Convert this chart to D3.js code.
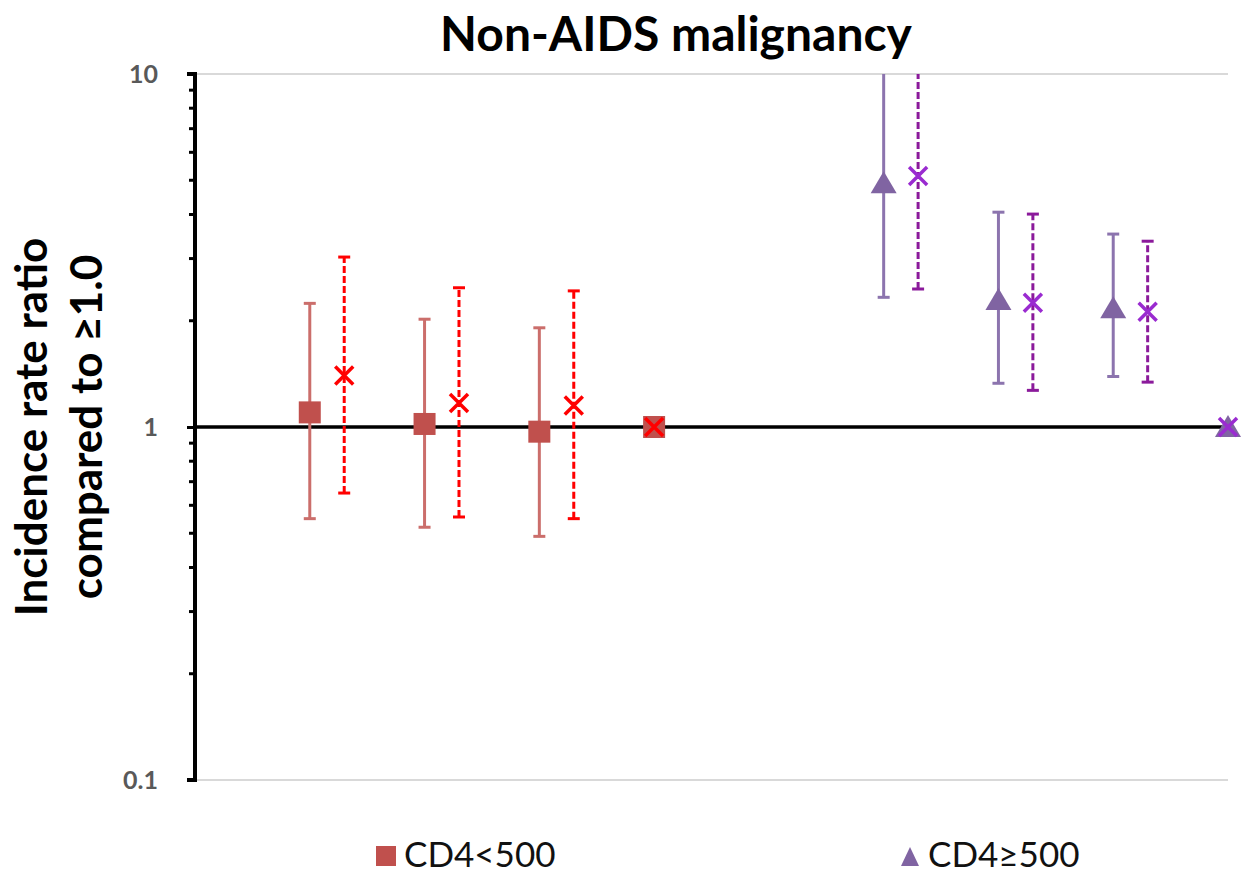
<!DOCTYPE html>
<html>
<head>
<meta charset="utf-8">
<script src="https://cdn.jsdelivr.net/npm/d3@7"></script>
<style>
  body { margin: 0; background: #fff; }
  text { font-family: Lato, "Open Sans", "Noto Sans", sans-serif; }
</style>
</head>
<body>
<svg id="chart" width="1244" height="876"></svg>
<script>
// Incidence rate ratios (vs. reference group ≥1.0), by CD4 stratum
const lowPositions   = [1, 2, 3, 4];
const lowModelValue  = [1.10, 1.02, 0.97, 1.0];
const lowModelLower  = [0.55, 0.52, 0.49, null];
const lowModelUpper  = [2.24, 2.02, 1.91, null];

const lowAdjPositions = [1.3, 2.3, 3.3, 4];
const lowAdjValue     = [1.40, 1.17, 1.15, 1.0];
const lowAdjLower     = [0.65, 0.556, 0.55, null];
const lowAdjUpper     = [3.03, 2.48, 2.43, null];

const highPositions   = [6, 7, 8, 9];
const highModelValue  = [4.90, 2.29, 2.17, 1.0];
const highModelLower  = [2.33, 1.33, 1.39, null];
const highModelUpper  = [11.5, 4.06, 3.52, null];

const highAdjPositions = [6.3, 7.3, 8.3, 9];
const highAdjValue     = [5.14, 2.25, 2.12, 1.0];
const highAdjLower     = [2.46, 1.27, 1.34, null];
const highAdjUpper     = [12.5, 4.01, 3.36, null];

const yTickValues = [0.1, 1, 10];
const yTickLabels = ["0.1", "1", "10"];
const legendLabels = ["CD4<500", "CD4\u2265500"];

const svg = d3.select("#chart");
const plot = { left: 195, right: 1228, top: 74, bottom: 780 };

const x = d3.scaleLinear().domain([0, 9]).range([plot.left, plot.right]);
const y = d3.scaleLog().domain([0.1, 10]).range([plot.bottom, plot.top]);

// title
svg.append("text")
  .attr("x", 676).attr("y", 51)
  .attr("text-anchor", "middle")
  .attr("font-size", 48).attr("font-weight", 700)
  .attr("fill", "#000")
  .text("Non-AIDS malignancy");

// gridline at top and light baseline at bottom
svg.append("line")
  .attr("x1", plot.left).attr("x2", plot.right)
  .attr("y1", y(10)).attr("y2", y(10))
  .attr("stroke", "#d9d9d9").attr("stroke-width", 2);
svg.append("line")
  .attr("x1", plot.left).attr("x2", plot.right)
  .attr("y1", y(0.1)).attr("y2", y(0.1))
  .attr("stroke", "#d9d9d9").attr("stroke-width", 2);

// y axis with minor ticks
const minorTicks = y.ticks(30).filter(v => !yTickValues.includes(+v.toPrecision(3)));
const yAxis = d3.axisLeft(y)
  .tickValues(yTickValues)
  .tickFormat((d, i) => yTickLabels[i])
  .tickSize(8)
  .tickPadding(29);
const gy = svg.append("g")
  .attr("transform", `translate(${plot.left},0)`)
  .call(yAxis);
gy.select(".domain").attr("stroke", "#000").attr("stroke-width", 4)
  .attr("d", `M-8,${plot.top}H0V${plot.bottom}H-8`);
gy.selectAll(".tick line").attr("stroke", "#000").attr("stroke-width", 3);
gy.selectAll(".tick text")
  .style("font-size", "25px").style("font-weight", "700")
  .attr("fill", "#595959");
gy.selectAll(".minor").data(minorTicks).enter().append("line")
  .attr("class", "minor")
  .attr("x1", -6).attr("x2", 0)
  .attr("y1", d => y(d)).attr("y2", d => y(d))
  .attr("stroke", "#000").attr("stroke-width", 3);

// y axis title
const yTitle = svg.append("text")
  .attr("transform", `translate(0,${(plot.top + plot.bottom) / 2}) rotate(-90)`)
  .attr("text-anchor", "middle")
  .attr("font-size", 44).attr("font-weight", 700)
  .attr("fill", "#000");
yTitle.append("tspan").attr("x", 0).attr("y", 47).text("Incidence rate ratio");
yTitle.append("tspan").attr("x", 0).attr("y", 102).text("compared to \u22651.0");

// reference line at 1
svg.append("line")
  .attr("x1", plot.left).attr("x2", plot.right)
  .attr("y1", y(1)).attr("y2", y(1))
  .attr("stroke", "#000").attr("stroke-width", 3.5);

// clip for error bars running past the top
svg.append("clipPath").attr("id", "plotClip")
  .append("rect")
  .attr("x", plot.left).attr("y", plot.top)
  .attr("width", plot.right - plot.left + 20).attr("height", plot.bottom - plot.top);

const layer = svg.append("g").attr("clip-path", "url(#plotClip)");

function toRows(pos, val, lo, hi) {
  return pos.map((p, i) => ({ p, v: val[i], lo: lo[i], hi: hi[i] }));
}

function errorBars(rows, color, dashed) {
  const g = layer.append("g");
  const withCI = rows.filter(d => d.lo != null);
  g.selectAll("line.bar").data(withCI).enter().append("line")
    .attr("x1", d => x(d.p)).attr("x2", d => x(d.p))
    .attr("y1", d => y(d.lo)).attr("y2", d => y(d.hi))
    .attr("stroke", color).attr("stroke-width", 3)
    .attr("stroke-dasharray", dashed ? "7,3" : null);
  ["lo", "hi"].forEach(k => {
    g.selectAll("line.cap-" + k).data(withCI).enter().append("line")
      .attr("x1", d => x(d.p) - 6).attr("x2", d => x(d.p) + 6)
      .attr("y1", d => y(d[k])).attr("y2", d => y(d[k]))
      .attr("stroke", color).attr("stroke-width", 3);
  });
}

const lowModel  = toRows(lowPositions, lowModelValue, lowModelLower, lowModelUpper);
const lowAdj    = toRows(lowAdjPositions, lowAdjValue, lowAdjLower, lowAdjUpper);
const highModel = toRows(highPositions, highModelValue, highModelLower, highModelUpper);
const highAdj   = toRows(highAdjPositions, highAdjValue, highAdjLower, highAdjUpper);

const sqColor = "#C0504D", sqBar = "#CB6E6B";
const redX = "#FF0000";
const triColor = "#8064A2", triBar = "#8C74AE";
const purpleX = "#9A2BD0", purpleBar = "#8B1A9B";

errorBars(lowModel, sqBar, false);
errorBars(lowAdj, redX, true);
errorBars(highModel, triBar, false);
errorBars(highAdj, purpleBar, true);

// markers
const marks = svg.append("g");
marks.selectAll("rect.sq").data(lowModel).enter().append("rect")
  .attr("x", d => x(d.p) - 11).attr("y", d => y(d.v) - 11)
  .attr("width", 22).attr("height", 22)
  .attr("fill", sqColor);

function crossMarks(rows, color) {
  const s = 9;
  marks.selectAll(null).data(rows).enter().append("path")
    .attr("d", d => {
      const cx = x(d.p), cy = y(d.v);
      return `M${cx - s},${cy - s}L${cx + s},${cy + s}M${cx - s},${cy + s}L${cx + s},${cy - s}`;
    })
    .attr("stroke", color).attr("stroke-width", 3.5).attr("fill", "none");
}
crossMarks(lowAdj, redX);

marks.selectAll("path.tri").data(highModel).enter().append("path")
  .attr("d", d => {
    const cx = x(d.p), cy = y(d.v);
    return `M${cx},${cy - 12}L${cx + 13},${cy + 10}L${cx - 13},${cy + 10}Z`;
  })
  .attr("fill", triColor);
crossMarks(highAdj, purpleX);

// legend
const legend = svg.append("g");
legend.append("rect").attr("x", 376).attr("y", 846).attr("width", 20).attr("height", 20).attr("fill", sqColor);
legend.append("text").attr("x", 404).attr("y", 867)
  .attr("font-size", 35).attr("fill", "#111").text(legendLabels[0]);
legend.append("path").attr("d", "M910,847L919,866L901,866Z").attr("fill", triColor);
legend.append("text").attr("x", 928).attr("y", 867)
  .attr("font-size", 35).attr("fill", "#111").text(legendLabels[1]);
</script>
</body>
</html>
